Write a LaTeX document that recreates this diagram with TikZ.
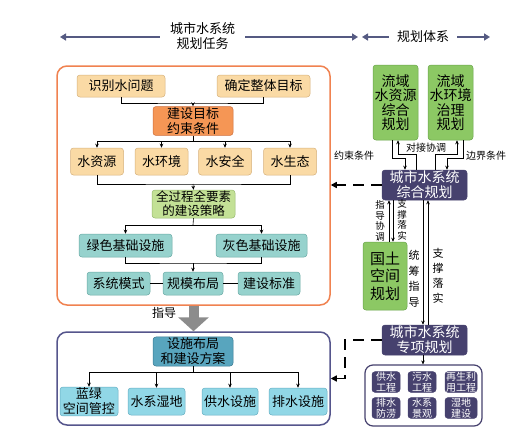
\documentclass[tikz,border=0pt]{standalone}
\usepackage{fontspec}
\setmainfont{Noto Sans CJK SC}
\usepackage{xcolor}
\usetikzlibrary{arrows.meta, positioning}
\definecolor{orangeline}{RGB}{240,130,80}
\definecolor{tanfill}{RGB}{250,218,165}
\definecolor{tanline}{RGB}{215,178,125}
\definecolor{goalfill}{RGB}{245,150,85}
\definecolor{goalline}{RGB}{205,110,60}
\definecolor{stratfill}{RGB}{195,225,150}
\definecolor{stratline}{RGB}{150,185,110}
\definecolor{tealfill}{RGB}{150,210,205}
\definecolor{tealline}{RGB}{105,170,165}
\definecolor{navyline}{RGB}{85,85,140}
\definecolor{planfill}{RGB}{88,165,190}
\definecolor{planline}{RGB}{55,120,145}
\definecolor{cyanfill}{RGB}{145,215,230}
\definecolor{cyanline}{RGB}{100,175,195}
\definecolor{leaffill}{RGB}{140,200,100}
\definecolor{leafline}{RGB}{105,165,75}
\definecolor{navyfill}{RGB}{70,65,110}
\definecolor{headline}{RGB}{85,90,130}
\definecolor{guidegray}{RGB}{140,140,140}
\newcommand{\fsz}[2]{\fontsize{#1}{#2}\selectfont}

\begin{document}
\begin{tikzpicture}[x=1pt,y=-1pt,line width=0.6pt,
        card/.style={rounded corners=3pt,inner sep=1pt,align=center,
                     line width=0.5pt,font=\fsz{13}{15}},
        tancard/.style={card,draw=tanline,fill=tanfill,minimum height=22pt},
        tealcard/.style={card,draw=tealline,fill=tealfill,minimum height=23pt},
        cyancard/.style={card,draw=cyanline,fill=cyanfill,minimum width=57pt,
                         minimum height=27pt},
        leaf/.style={card,draw=leafline,fill=leaffill,minimum width=45pt,
                     minimum height=75pt,font=\fsz{14}{14.5}},
        navycard/.style={card,draw=navyfill,fill=navyfill,text=white,
                         minimum width=85pt,minimum height=30pt,font=\fsz{14}{15}},
        mini/.style={card,draw=navyfill,fill=navyfill,text=white,inner sep=0.5pt,
                     minimum width=28pt,minimum height=20pt,font=\fsz{10}{10.5}},
        frame/.style={line width=1.5pt,rounded corners=10pt,minimum width=273pt},
        vlab/.style={align=center,inner sep=0pt,font=\fsz{9.5}{10.5}},
        smalllab/.style={inner sep=0pt,font=\fsz{10}{12}},
        arr/.style={-{Stealth[length=4pt,width=3.5pt]}},
        hdr/.style={headline,line width=2.2pt,-{Triangle[length=6pt,width=7pt]}},
        dasharrow/.style={line width=1.4pt,dash pattern=on 11pt off 7pt,
                          -{Triangle[length=6pt,width=6pt]}}]
      \fill[white] (0,0) rectangle (531,440);
      \useasboundingbox (0,0) rectangle (531,440);
      % header
      \node[align=center,inner xsep=10pt,font=\fsz{13}{15}] (t1) at (202.5,36) {城市水系统\\规划任务};
      \node[inner xsep=8pt,font=\fsz{13}{15}] (t2) at (423,37) {规划体系};
      \coordinate (h1) at (60,37);
      \coordinate (h2) at (358,37);
      \coordinate (h3) at (362,37);
      \coordinate (h4) at (490,37);
      \draw[hdr] (t1.west |- h1) -- (h1);
      \draw[hdr] (t1.east |- h1) -- (h2);
      \draw[hdr] (t2.west) -- (h3);
      \draw[hdr] (t2.east) -- (h4);
      % planning task frame
      \node[frame,draw=orangeline,minimum height=239pt] (task) at (193.5,185.5) {};
      \node[tancard,minimum width=88pt] (q1) at (121,86) {识别水问题};
      \node[tancard,minimum width=93pt] (q2) at (263.5,86) {确定整体目标};
      \node[card,draw=goalline,fill=goalfill,minimum width=80pt,minimum height=28pt] (goal) at (193,121) {建设目标\\约束条件};
      \foreach \n/\x/\t in {w1/97/水资源,w2/161.5/水环境,w3/225/水安全,w4/290/水生态}
        \node[tancard,minimum width=53pt,minimum height=27pt] (\n) at (\x,161.5) {\t};
      \node[card,draw=stratline,fill=stratfill,minimum width=83pt,minimum height=28pt,
            font=\fsz{12.5}{14}] (strat) at (193.5,204) {全过程全要素\\的建设策略};
      \node[tealcard,minimum width=93pt] (g1) at (125.5,245.5) {绿色基础设施};
      \node[tealcard,minimum width=91pt] (g2) at (261.5,245.5) {灰色基础设施};
      \node[tealcard,minimum width=63pt] (m1) at (118.5,283.5) {系统模式};
      \node[tealcard,minimum width=60pt] (m2) at (193,283.5) {规模布局};
      \node[tealcard,minimum width=62pt] (m3) at (269,283.5) {建设标准};
      \coordinate (j1) at (193,103);
      \coordinate (j2) at (193,141);
      \coordinate (j3) at (193,184);
      \coordinate (j4) at (193,225);
      \coordinate (j5) at (193,263);
      \draw (q1.south) |- (j1) -| (q2.south);
      \draw[arr] (j1) -- (goal.north);
      \draw (goal.south) -- (j2);
      \draw (j2 -| w1.north) -- (j2 -| w4.north);
      \foreach \n in {w1,w2,w3,w4}
        \draw[arr] (j2 -| \n.north) -- (\n.north);
      \draw (w1.south) |- (j3) -| (w4.south);
      \draw[arr] (j3) -- (strat.north);
      \draw (strat.south) -- (j4);
      \draw (j4 -| g1.north) -- (j4 -| g2.north);
      \foreach \n in {g1,g2}
        \draw[arr] (j4 -| \n.north) -- (\n.north);
      \draw (g1.south) |- (j5) -| (g2.south);
      \draw[arr] (j5) -- (m2.north);
      \draw (m1) -- (m2);
      \draw (m2) -- (m3);
      % facility frame
      \node[frame,draw=navyline,minimum height=93pt] (site) at (193.5,378.5) {};
      \draw[guidegray,line width=10pt,-{Triangle[length=14pt,width=30pt]}] (task.south) -- (site.north);
      \node[font=\fsz{12}{14}] (guide) at (164,313) {指导};
      \node[card,draw=planline,fill=planfill,minimum width=80pt,minimum height=27pt] (plan) at (193,351.5) {设施布局\\和建设方案};
      \node[cyancard,minimum width=58pt] (f1) at (89,401.5) {蓝绿\\空间管控};
      \node[cyancard] (f2) at (156.5,401.5) {水系湿地};
      \node[cyancard,minimum width=56pt] (f3) at (230,401.5) {供水设施};
      \node[cyancard,minimum width=58pt] (f4) at (298,401.5) {排水设施};
      \coordinate (j6) at (193,372);
      \draw (plan.south) -- (j6);
      \draw (j6 -| f1.north) -- (j6 -| f4.north);
      \foreach \n in {f1,f2,f3,f4}
        \draw[arr] (j6 -| \n.north) -- (\n.north);
      % planning system
      \node[leaf] (ws) at (395.5,102.5) {流域\\水资源\\综合\\规划};
      \node[leaf] (we) at (450.5,102.5) {流域\\水环境\\治理\\规划};
      \node[navycard] (zh) at (424.5,185) {城市水系统\\综合规划};
      \node[leaf,minimum width=44pt,minimum height=68pt,font=\fsz{15}{17.5}] (gt) at (385,276) {国土\\空间\\规划};
      \node[navycard] (zx) at (424.5,340) {城市水系统\\专项规划};
      \node[draw=navyfill,line width=1.2pt,rounded corners=8pt,minimum width=117pt,
            minimum height=61pt] (set) at (423.5,395.5) {};
      \node[mini] (s1) at (386,382) {供水\\工程};
      \node[mini] (s2) at (422,382) {污水\\工程};
      \node[mini,minimum width=32pt] (s3) at (461,382) {再生利\\用工程};
      \node[mini] (s4) at (386,408) {排水\\防涝};
      \node[mini] (s5) at (422,408) {水系\\景观};
      \node[mini,minimum width=32pt] (s6) at (461,408) {湿地\\建设};
      \coordinate (e1) at (405,158);
      \coordinate (e2) at (398,154);
      \coordinate (e3) at (457,154);
      \coordinate (e4) at (447,158);
      \draw[arr] ([xshift=-3.5pt]ws.south) |- (e1) -- (e1 |- zh.north);
      \draw[arr] ([xshift=-8.5pt]zh.north) |- (e2) -- (e2 |- ws.south);
      \draw[arr] ([xshift=10.5pt]zh.north) |- (e3) -- (e3 |- we.south);
      \draw[arr] ([xshift=12.5pt]we.south) |- (e4) -- (e4 |- zh.north);
      \node[smalllab] (lb1) at (354,156) {约束条件};
      \node[smalllab] (lb2) at (426,148) {对接协调};
      \node[smalllab] (lb3) at (486,156) {边界条件};
      \draw[arr] ([xshift=4pt]gt.north) -- ([xshift=4pt]gt.north |- zh.south);
      \draw[arr] ([xshift=8pt]gt.north |- zh.south) -- ([xshift=8pt]gt.north);
      \node[vlab] (v1) at (380,221) {指\\导\\协\\调};
      \node[vlab] (v2) at (402,220) {支\\撑\\落\\实};
      \draw[arr] ([xshift=-1.5pt]zh.south) -- ([xshift=-1.5pt]zx.north);
      \draw[arr] ([xshift=3.5pt]zx.north) -- ([xshift=3.5pt]zh.south);
      \node[vlab,font=\fsz{11}{15.5}] (v3) at (414,279) {统\\筹\\指\\导};
      \node[vlab,font=\fsz{11}{15}] (v4) at (438,276) {支\\撑\\落\\实};
      \draw[arr] ([xshift=-1.5pt]zx.south) -- ([xshift=-1.5pt]zx.south |- set.north);
      % constraint feedback
      \coordinate (k1) at (345,340);
      \draw[dasharrow] (zh.west) -- (zh.west -| task.east);
      \draw[dasharrow] (zx.west) -- (zx.west -| k1) |- (site.east);
    \end{tikzpicture}
\end{document}
